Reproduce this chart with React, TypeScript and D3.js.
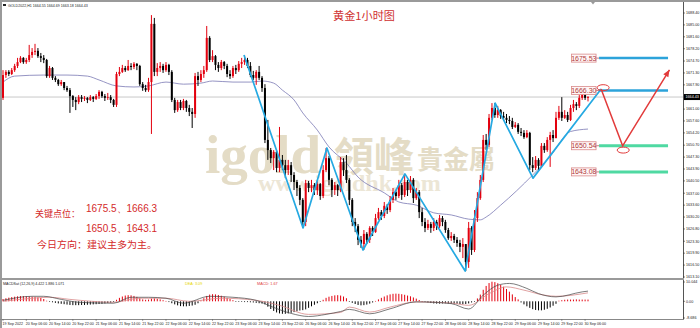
import React from "react";
import * as d3 from "d3";

// ---------------- data ----------------
const firstOpen = 1664.2;
const closes = [
  1670.7, 1671.6, 1671.0, 1672.1, 1673.3, 1674.4, 1675.6, 1674.4, 1675.0, 1676.4,
  1677.3, 1677.6, 1676.1, 1675.6, 1675.0, 1670.4, 1672.7, 1669.9, 1669.3, 1668.1,
  1668.7, 1667.0, 1666.4, 1664.7, 1663.6, 1663.0, 1664.4, 1663.9, 1664.2, 1663.6,
  1664.4, 1663.9, 1664.7, 1665.9, 1664.7, 1664.2, 1664.4, 1663.6, 1662.2, 1671.0,
  1671.6, 1672.7, 1672.1, 1673.3, 1673.0, 1673.9, 1673.3, 1668.1, 1667.0, 1666.4,
  1668.7, 1685.3, 1671.6, 1672.7, 1673.3, 1672.1, 1673.6, 1671.6, 1663.6, 1660.7,
  1663.0, 1661.3, 1663.3, 1661.3, 1660.2, 1659.6, 1670.4, 1669.3, 1671.0, 1672.1,
  1681.3, 1675.0, 1676.1, 1673.6, 1672.7, 1674.4, 1673.3, 1671.0, 1670.4, 1672.7,
  1672.1, 1673.9, 1674.4, 1675.0, 1673.3, 1670.7, 1669.9, 1671.6, 1669.9, 1667.0,
  1652.2, 1649.3, 1647.0, 1648.8, 1644.2, 1646.5, 1645.0, 1643.6, 1645.0, 1642.2,
  1640.2, 1638.5, 1635.1, 1628.8, 1639.9, 1638.5, 1639.3, 1637.9, 1639.6, 1636.2,
  1643.6, 1647.0, 1640.8, 1637.9, 1639.3, 1637.9, 1645.9, 1643.6, 1640.8, 1635.1,
  1628.8, 1627.6, 1623.7, 1622.5, 1625.4, 1623.7, 1627.1, 1625.9, 1629.9, 1631.6,
  1630.5, 1633.4, 1632.2, 1635.1, 1637.3, 1636.2, 1639.3, 1636.5, 1640.2, 1637.9,
  1640.8, 1635.6, 1637.3, 1631.6, 1628.8, 1627.1, 1628.2, 1627.1, 1628.8, 1627.6,
  1629.9, 1628.8, 1626.5, 1624.2, 1624.8, 1623.7, 1622.8, 1621.7, 1622.5, 1617.4,
  1627.1, 1620.8, 1629.9, 1635.6, 1640.8, 1652.2, 1650.8, 1658.5, 1661.3, 1659.3,
  1660.7, 1659.0, 1658.5, 1657.9, 1657.6, 1655.9, 1656.5, 1654.5, 1654.2, 1653.0,
  1654.2, 1645.0, 1644.2, 1646.5, 1644.8, 1650.5, 1649.3, 1652.2, 1653.6, 1652.7,
  1658.5, 1660.2, 1658.5, 1659.3, 1657.9, 1661.3, 1662.4, 1661.9, 1664.2, 1665.0,
  1664.2, 1664.43,
];
const highs = [
  1672.1, 1672.1, 1672.1, 1672.7, 1673.9, 1675.6, 1676.1, 1675.8, 1675.6, 1679.3,
  1678.4, 1679.6, 1678.4, 1677.0, 1676.4, 1675.3, 1673.3, 1673.0, 1670.4, 1669.6,
  1669.3, 1668.7, 1667.6, 1667.0, 1665.0, 1664.4, 1665.0, 1665.0, 1664.7, 1664.4,
  1665.0, 1664.7, 1665.3, 1666.4, 1666.2, 1665.3, 1665.6, 1665.0, 1663.9, 1671.6,
  1673.0, 1673.6, 1673.3, 1675.0, 1674.1, 1674.4, 1674.1, 1673.6, 1668.7, 1667.9,
  1669.9, 1687.8, 1687.0, 1674.1, 1674.4, 1673.9, 1674.4, 1673.9, 1672.1, 1664.2,
  1663.6, 1663.6, 1663.9, 1663.6, 1662.2, 1661.3, 1671.3, 1671.6, 1672.1, 1673.3,
  1684.7, 1681.8, 1677.8, 1676.4, 1674.4, 1675.0, 1674.7, 1673.9, 1672.1, 1673.3,
  1673.6, 1674.7, 1675.6, 1676.4, 1675.6, 1674.4, 1671.9, 1672.1, 1673.3, 1670.4,
  1668.1, 1657.9, 1649.9, 1649.3, 1649.3, 1655.9, 1647.9, 1646.5, 1646.5, 1645.9,
  1643.0, 1640.8, 1639.3, 1635.6, 1640.8, 1640.5, 1640.8, 1639.9, 1640.8, 1639.9,
  1645.0, 1649.9, 1647.6, 1641.3, 1640.2, 1639.6, 1647.3, 1647.0, 1647.9, 1641.3,
  1635.6, 1629.9, 1628.2, 1624.8, 1626.5, 1625.9, 1627.6, 1627.6, 1631.1, 1632.8,
  1632.2, 1634.5, 1633.9, 1636.2, 1638.5, 1637.9, 1640.8, 1639.9, 1642.5, 1640.8,
  1641.9, 1641.3, 1638.5, 1637.9, 1632.8, 1629.9, 1629.4, 1628.8, 1629.9, 1629.4,
  1630.8, 1630.5, 1629.4, 1627.1, 1625.9, 1625.4, 1624.5, 1623.7, 1624.2, 1622.5,
  1628.8, 1627.6, 1632.2, 1637.3, 1642.2, 1653.6, 1653.9, 1659.6, 1662.7, 1662.7,
  1661.9, 1661.0, 1660.2, 1659.6, 1659.0, 1658.5, 1657.3, 1657.0, 1655.6, 1655.0,
  1655.0, 1654.5, 1647.3, 1647.6, 1647.0, 1651.3, 1651.3, 1653.0, 1654.5, 1655.0,
  1660.2, 1661.9, 1664.4, 1660.7, 1660.2, 1662.2, 1663.6, 1663.0, 1665.0, 1665.9,
  1665.6, 1664.69,
];
const lows = [
  1663.6, 1669.9, 1670.4, 1670.7, 1671.6, 1672.7, 1674.1, 1673.9, 1673.9, 1674.4,
  1675.6, 1676.4, 1675.6, 1674.4, 1674.1, 1669.9, 1669.9, 1669.3, 1668.7, 1667.6,
  1667.6, 1666.4, 1665.9, 1659.9, 1661.6, 1660.7, 1662.4, 1663.0, 1663.3, 1662.7,
  1663.3, 1663.0, 1663.6, 1663.9, 1664.2, 1663.3, 1663.6, 1662.7, 1661.6, 1661.6,
  1670.4, 1671.3, 1671.6, 1671.9, 1672.1, 1672.4, 1672.1, 1667.6, 1666.2, 1665.9,
  1665.9, 1653.9, 1670.4, 1670.4, 1671.6, 1671.3, 1671.6, 1670.7, 1663.0, 1659.9,
  1660.2, 1660.7, 1660.7, 1660.2, 1659.0, 1655.6, 1658.5, 1667.6, 1668.7, 1669.9,
  1671.6, 1674.4, 1674.4, 1672.1, 1671.6, 1672.1, 1672.4, 1670.1, 1669.6, 1669.9,
  1671.0, 1671.6, 1672.7, 1673.6, 1672.7, 1670.1, 1669.3, 1667.9, 1669.3, 1665.9,
  1651.3, 1646.5, 1645.6, 1643.6, 1643.0, 1643.0, 1643.6, 1641.3, 1642.2, 1640.2,
  1637.9, 1636.2, 1633.6, 1627.1, 1627.6, 1637.3, 1637.3, 1636.5, 1636.5, 1635.1,
  1635.6, 1643.0, 1639.3, 1635.9, 1636.5, 1636.2, 1637.3, 1641.9, 1639.9, 1633.6,
  1627.6, 1625.9, 1622.2, 1621.4, 1620.8, 1622.5, 1622.8, 1624.8, 1625.7, 1629.4,
  1629.4, 1629.9, 1631.1, 1631.6, 1634.2, 1635.1, 1635.6, 1635.1, 1635.9, 1636.2,
  1637.1, 1634.2, 1635.1, 1629.9, 1627.6, 1625.9, 1626.5, 1625.7, 1626.2, 1626.5,
  1627.1, 1627.6, 1625.7, 1623.7, 1623.4, 1622.8, 1621.7, 1620.2, 1618.5, 1614.8,
  1615.7, 1619.4, 1620.2, 1628.8, 1635.1, 1640.2, 1649.3, 1650.2, 1657.9, 1658.5,
  1658.5, 1658.2, 1657.6, 1657.0, 1656.7, 1655.3, 1655.6, 1653.9, 1653.3, 1652.5,
  1652.7, 1643.6, 1643.0, 1643.6, 1643.6, 1644.2, 1648.5, 1648.8, 1644.5, 1651.6,
  1652.7, 1657.9, 1657.6, 1658.2, 1657.3, 1657.6, 1660.2, 1660.7, 1661.3, 1663.6,
  1663.6, 1663.18,
];

const timeLabels = [
  "19 Sep 2022", "20 Sep 06:00", "20 Sep 14:00", "20 Sep 22:00", "21 Sep 06:00",
  "21 Sep 14:00", "21 Sep 22:00", "22 Sep 06:00", "22 Sep 14:00", "22 Sep 22:00",
  "23 Sep 06:00", "23 Sep 14:00", "23 Sep 22:00", "26 Sep 06:00", "26 Sep 14:00",
  "26 Sep 22:00", "27 Sep 06:00", "27 Sep 14:00", "27 Sep 22:00", "28 Sep 06:00",
  "28 Sep 14:00", "28 Sep 22:00", "29 Sep 06:00", "29 Sep 14:00", "29 Sep 22:00",
  "30 Sep 06:00",
];
const labelEvery = 8;

const priceTicks = [
  1688.4, 1685.0, 1681.6, 1678.2, 1674.7, 1671.3, 1667.9, 1661.0, 1657.6, 1654.2,
  1650.7, 1647.3, 1643.9, 1640.5, 1637.0, 1633.6, 1630.2, 1626.8, 1623.3, 1619.9,
  1616.5, 1613.1,
];
const lastPrice = 1664.43;
const headerText = "GOLD2022,H1  1664.55 1664.69 1663.18 1664.43";

// moving average
const maIdx = [0, 4, 14, 22, 29, 33, 39, 45, 50, 56, 62, 68, 72, 79, 85, 89, 93, 96, 100, 103, 108, 112, 118, 122, 131, 136, 142, 148, 154, 160, 164, 166, 171, 182, 188, 195, 201];
const maVal = [1668.7, 1670.4, 1670.7, 1670.7, 1670.4, 1669.3, 1667.6, 1667.3, 1667.6, 1668.7, 1668.1, 1668.4, 1669.0, 1668.7, 1668.7, 1669.0, 1668.4, 1666.4, 1663.6, 1659.9, 1655.0, 1650.2, 1645.6, 1641.6, 1637.1, 1634.5, 1633.6, 1631.4, 1630.8, 1629.6, 1629.4, 1630.2, 1633.6, 1642.2, 1647.5, 1654.6, 1655.3];

// MACD histogram (one value per bar)
const histValues = [
  1.2, 1.6, 1.9, 2.2, 2.4, 2.6, 2.7, 2.7, 2.6, 2.5, 2.4, 2.3, 2.1, 1.8, 1.2,
  0.3, -0.2,
  -0.5, -0.8, -1.1, -1.3, -1.5, -1.7, -1.9, -2.0, -2.0, -2.0, -1.9, -1.9, -1.8, -1.7, -1.6, -1.5, -1.4, -1.3, -1.1, -0.9, -0.7, -0.4,
  0.8, 1.8, 2.5, 3.0, 3.2, 3.1, 2.8, 2.3, 1.6,
  1.0, 0.8, 0.9, 1.4, 1.5, 1.3, 1.0, 0.6, 0.2,
  -0.4, -1.0, -1.6, -2.1, -2.5, -2.6, -2.6, -2.4, -2.2, -1.8, -1.0,
  0.5, 1.6, 2.8, 3.5, 3.7, 3.6, 3.3, 2.9, 2.4, 1.8, 1.2, 0.6,
  -0.2, -0.3, -0.3, -0.4, -0.4, -0.5, -0.6,
  -0.8, -1.0, -1.2, -1.6,
  -2.8, -4.0, -5.0, -5.8, -6.3, -6.5, -6.5, -6.3, -6.0, -5.6, -5.2, -4.8, -4.6, -4.2,
  -3.4, -2.6, -1.8, -1.0, -0.3,
  0.8, 1.8, 2.4, 2.8, 3.1, 3.2, 3.0, 2.5, 1.6,
  -0.3, -0.8, -1.4, -1.9, -2.1, -2.0, -1.7, -1.2, -0.6,
  0.2,
  1.0, 1.8, 2.5, 3.1, 3.6, 3.9, 4.0, 3.9, 3.7, 3.4, 3.0, 2.6, 2.0, 1.4, 0.7,
  0.1, -0.3,
  -0.6, -0.9, -1.1, -1.2, -1.2, -1.1, -1.0, -1.1, -1.2, -1.3, -1.3, -1.4, -1.5, -1.4, -1.1, -0.6, -0.2,
  1.5, 3.5, 6.0, 8.0, 9.5, 10.2, 10.0, 9.4, 8.6, 7.6, 6.4, 5.0, 3.6, 2.2, 1.0,
  -0.6, -1.6, -2.6, -3.4, -4.1, -4.5, -4.7, -4.7, -4.4, -3.9, -3.2, -2.3, -1.3,
  0.3, 0.6, 0.8, 0.9, 0.9, 0.9, 1.0, 0.9, 0.9, 0.9, 0.9,
];
const difIdx = [0, 10, 14, 20, 26, 38, 44, 50, 56, 62, 71, 79, 87, 92, 99, 105, 111, 116, 119, 126, 133, 142, 154, 160, 165, 170, 174, 180, 184, 190, 199, 201];
const difVal = [0.5, 2.6, 2.6, 1.0, -0.5, -1.0, 2.1, 2.1, 1.6, -1.0, 2.6, 2.1, 0.5, -2.6, -6.3, -7.9, -6.8, -5.3, -4.2, -6.5, -3.9, -0.3, -1.2, -4.0, 3.2, 8.4, 9.3, 6.7, 4.0, 2.3, 4.9, 5.3];
const deaIdx = [0, 10, 16, 23, 38, 47, 56, 64, 75, 87, 95, 105, 116, 119, 126, 133, 142, 154, 160, 167, 173, 179, 186, 190, 201];
const deaVal = [0.0, 1.6, 2.1, 1.0, -0.5, 1.6, 1.6, 0.0, 1.6, 0.5, -2.1, -6.8, -5.8, -3.0, -5.6, -3.0, -0.3, -0.9, -2.1, 4.0, 7.5, 5.8, 3.2, 2.6, 4.4];
const macdTicks = [10.044, 0, -8.686];
const macdHeader = "MACDSat (12,26,9) 4.422 1.886 1.071";

// analysis overlay
const zigIdx = [82.8, 103.1, 111.3, 123.7, 138.1, 158.8, 169.1, 182.1, 205.5];
const zigVal = [1676.4, 1627.1, 1649.9, 1620.8, 1642.5, 1614.8, 1662.7, 1641.3, 1666.7];
const projIdx = [205.5, 212.9, 229.0];
const projVal = [1666.7, 1650.5, 1672.2];
const levelValues = [1675.53, 1666.3, 1650.54, 1643.08];
const levelKinds = ["resist", "resist", "support", "support"];
const levelSpan = [204.8, 228.5];
const markIdx = [206.2, 213.1];
const markVal = [1667.1, 1649.3];
const keyLevelLines = ["1675.5、1666.3", "1650.5、1643.1"];

const SANS = "'Liberation Sans', Arial, sans-serif";
const CJK = "'Noto Sans CJK SC', 'Noto Sans CJK TC', sans-serif";

export default function App() {
  const n = closes.length;
  const x = d3.scaleLinear().domain([0, n - 1]).range([3, 588]);
  const y = d3.scaleLinear().domain([1613.1, 1688.4]).range([277, 13]);
  const ym = d3.scaleLinear().domain([-8.686, 10.044]).range([318, 282]);
  const opens = closes.map((c, i) => (i === 0 ? firstOpen : closes[i - 1]));

  const pricePath = (idx: number[], val: number[], curve?: any) => {
    const l = d3.line<number>().x((_, i) => x(idx[i])).y((_, i) => y(val[i]));
    if (curve) l.curve(curve);
    return l(val) || "";
  };
  const macdPath = (idx: number[], val: number[]) =>
    d3.line<number>().x((_, i) => x(idx[i])).y((_, i) => ym(val[i])).curve(d3.curveMonotoneX)(val) || "";

  // arrow head for projection
  const pe = projIdx.length - 1;
  const ax = x(projIdx[pe]), ay = y(projVal[pe]);
  const bx = x(projIdx[pe - 1]), by = y(projVal[pe - 1]);
  const ang = Math.atan2(ay - by, ax - bx);
  const ah = 7, aw = 3;
  const arrow = [
    [ax, ay],
    [ax - ah * Math.cos(ang) + aw * Math.sin(ang), ay - ah * Math.sin(ang) - aw * Math.cos(ang)],
    [ax - ah * Math.cos(ang) - aw * Math.sin(ang), ay - ah * Math.sin(ang) + aw * Math.cos(ang)],
  ].map((p) => p.join(",")).join(" ");

  return (
    <svg width={700} height={328} viewBox="0 0 700 328"
      style={{ position: "absolute", left: 0, top: 0, background: "#fff", display: "block" }}>
      <rect x={0} y={0} width={700} height={328} fill="#fff" />
      <defs>
        <clipPath id="mainClip"><rect x={2} y={2} width={681} height={276} /></clipPath>
        <clipPath id="macdClip"><rect x={2} y={280} width={681} height={39} /></clipPath>
      </defs>

      {/* watermark */}
      <g style={{ pointerEvents: "none" }}>
        <text x={205} y={173} fontFamily="'Liberation Serif', 'DejaVu Serif', serif" fontWeight={700} fontSize={55} fill="#e4dcc6">igold</text>
        <text x={334} y={171} fontFamily="'Noto Sans CJK TC', sans-serif" fontWeight={700} fontSize={40} fill="#e4dcc6">領峰</text>
        <text x={417} y={169} fontFamily="'Noto Sans CJK TC', sans-serif" fontWeight={700} fontSize={26} fill="#e4dcc6">貴金屬</text>
        <text x={258} y={191} fontFamily="'Liberation Serif', 'DejaVu Serif', serif" fontWeight={700} fontSize={24} fill="#ece6d6">www.igoldhk.com</text>
      </g>

      {/* frame */}
      <line x1={0} x2={700} y1={1} y2={1} stroke="#9a9a9a" strokeWidth={2} />
      <line x1={1} x2={1} y1={0} y2={328} stroke="#9a9a9a" strokeWidth={2} />
      <line x1={683.5} x2={683.5} y1={2} y2={319} stroke="#555" strokeWidth={1} />
      <line x1={0} x2={684} y1={279} y2={279} stroke="#9a9a9a" strokeWidth={2} />
      <line x1={0} x2={684} y1={319.5} y2={319.5} stroke="#888" strokeWidth={1} />
      <polygon points="591,2 595,2 593,4.5" fill="#999" />

      {/* header */}
      <rect x={3} y={4} width={3} height={2} fill="#222" />
      <text x={8} y={6.5} fontFamily={SANS} fontSize={3.6} fill="#222">{headerText}</text>

      {/* current price line */}
      <line x1={2} x2={683} y1={y(lastPrice)} y2={y(lastPrice)} stroke="#c8c8c8" strokeWidth={1} />

      <g clipPath="url(#mainClip)">
        {/* moving average */}
        <path d={pricePath(maIdx, maVal, d3.curveMonotoneX)} fill="none" stroke="#7a78b4" strokeWidth={0.8} />
        {/* candles */}
        {closes.map((c, i) => {
          const o = opens[i];
          const up = c >= o;
          const col = up ? "#e3000e" : "#000";
          const hi = Math.max(highs[i], o, c);
          const lo = Math.min(lows[i], o, c);
          const top = y(Math.max(o, c));
          const bot = y(Math.min(o, c));
          const cx = x(i);
          return (
            <g key={i}>
              <line x1={cx} x2={cx} y1={y(hi)} y2={y(lo)} stroke={col} strokeWidth={1} />
              <rect x={cx - 1} y={top} width={2} height={Math.max(0.8, bot - top)} fill={col} />
            </g>
          );
        })}
        {/* zigzag */}
        <path d={pricePath(zigIdx, zigVal)} fill="none" stroke="#25a9e2" strokeWidth={1.7} strokeLinejoin="round" />
        {/* levels */}
        {levelValues.map((v, i) => (
          <line key={i} x1={x(levelSpan[0])} x2={x(levelSpan[1])} y1={y(v)} y2={y(v)}
            stroke={levelKinds[i] === "resist" ? "#2ca3da" : "#4fd9a2"}
            strokeWidth={levelKinds[i] === "resist" ? 2.5 : 3} />
        ))}
        {/* projection */}
        <path d={pricePath(projIdx, projVal)} fill="none" stroke="#e23b3b" strokeWidth={1.5} strokeLinejoin="miter" />
        <polygon points={arrow} fill="#e23b3b" />
        {markIdx.map((m, i) => (
          <ellipse key={i} cx={x(m)} cy={y(markVal[i])} rx={6} ry={3} fill="none" stroke="#e23b3b" strokeWidth={1} />
        ))}
      </g>

      {/* level labels */}
      {levelValues.map((v, i) => {
        const ly = y(v);
        const right = x(levelSpan[0]) - 3;
        return (
          <g key={i}>
            <line x1={right} x2={x(levelSpan[0])} y1={ly} y2={ly} stroke="#c06060" strokeWidth={0.8} />
            <rect x={right - 24.5} y={ly - 4} width={24.5} height={8} fill="#fff6f6" stroke="#d98a8a" strokeWidth={0.8} />
            <text x={right - 12.25} y={ly + 2.5} textAnchor="middle" fontFamily={SANS} fontSize={7} fill="#b03a3a">{v.toFixed(2)}</text>
          </g>
        );
      })}

      {/* title */}
      <text x={333} y={20} fontFamily={CJK} fontSize={11} fill="#cf3030" textLength={62} lengthAdjust="spacingAndGlyphs">黄金1小时图</text>

      {/* left annotation */}
      <text x={35} y={217} fontFamily={CJK} fontSize={9} fill="#d42a2a" textLength={45} lengthAdjust="spacingAndGlyphs">关键点位：</text>
      {keyLevelLines.map((t, i) => (
        <text key={i} x={86} y={212 + i * 20} fontFamily={SANS} fontSize={11} fill="#d42a2a" textLength={71} lengthAdjust="spacingAndGlyphs">{t}</text>
      ))}
      <text x={37} y={248} fontFamily={CJK} fontSize={9.5} fill="#d42a2a" textLength={120} lengthAdjust="spacingAndGlyphs">今日方向：建议主多为主。</text>

      {/* right price axis */}
      {priceTicks.map((p, i) => (
        <g key={i}>
          <line x1={683} x2={685} y1={y(p)} y2={y(p)} stroke="#333" strokeWidth={0.6} />
          <text x={686} y={y(p) + 1.3} fontFamily={SANS} fontSize={3.7} fill="#222">{p.toFixed(2)}</text>
        </g>
      ))}
      <rect x={684} y={y(lastPrice) - 3} width={16} height={6} fill="#000" />
      <text x={685.5} y={y(lastPrice) + 1.3} fontFamily={SANS} fontSize={3.7} fill="#fff">{lastPrice.toFixed(2)}</text>

      {/* MACD panel */}
      <g clipPath="url(#macdClip)">
        {histValues.map((v, i) => {
          const y0 = ym(0), y1 = ym(v);
          const h = Math.max(0.6, Math.abs(y1 - y0));
          return <rect key={i} x={x(i) - 0.5} y={Math.min(y0, y1)} width={1} height={h} fill={v >= 0 ? "#e3000e" : "#000"} />;
        })}
        <path d={macdPath(deaIdx, deaVal)} fill="none" stroke="#d88a8a" strokeWidth={0.8} />
        <path d={macdPath(difIdx, difVal)} fill="none" stroke="#444" strokeWidth={0.7} />
      </g>
      <text x={3} y={284.5} fontFamily={SANS} fontSize={3.6} fill="#222">{macdHeader}</text>
      <text x={185} y={284.5} fontFamily={SANS} fontSize={3.8} fill="#e6d600">DEA:     3.09</text>
      <text x={257} y={284.5} fontFamily={SANS} fontSize={3.8} fill="#e04040">MACD:     1.67</text>
      {macdTicks.map((t, i) => (
        <g key={i}>
          <line x1={683} x2={685} y1={ym(t)} y2={ym(t)} stroke="#333" strokeWidth={0.6} />
          <text x={686} y={ym(t) + 1.3} fontFamily={SANS} fontSize={3.7} fill="#222">{t === 0 ? "0.00" : t.toFixed(3)}</text>
        </g>
      ))}

      {/* time axis */}
      {timeLabels.map((t, i) => {
        const tx = x(i * labelEvery);
        return (
          <g key={i}>
            <line x1={tx} x2={tx} y1={319} y2={321} stroke="#555" strokeWidth={0.5} />
            <text x={tx - 0.5} y={324.5} fontFamily={SANS} fontSize={3.6} fill="#222">{t}</text>
          </g>
        );
      })}
    </svg>
  );
}
